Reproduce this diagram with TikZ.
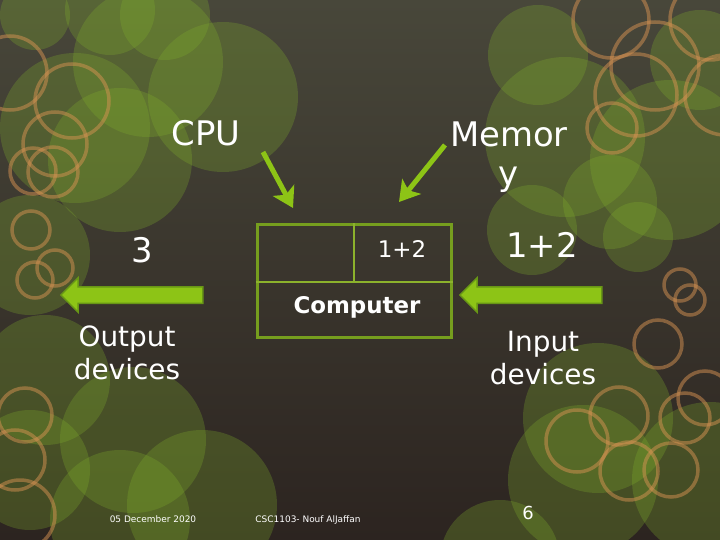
\documentclass[tikz,border=0pt]{standalone}
\usepackage{fontspec}
\setmainfont{DejaVu Sans}
\usetikzlibrary{positioning,shapes.arrows,arrows.meta}

\definecolor{bgtop}{RGB}{72,71,58}
\definecolor{bgbot}{RGB}{44,36,32}
\definecolor{bokehgreen}{RGB}{129,176,44}
\definecolor{ringorange}{RGB}{214,146,82}
\definecolor{boxgreen}{RGB}{118,158,30}
\definecolor{linegreen}{RGB}{140,178,44}
\definecolor{arrowgreen}{RGB}{141,196,22}
\definecolor{arrowedge}{RGB}{104,150,22}

\tikzset{
  bokeh/.style={fill=bokehgreen, fill opacity=0.28},
  ring/.style={draw=ringorange, draw opacity=0.5, line width=3.5bp},
  slidetext/.style={text=white, anchor=base, align=center, inner sep=0pt},
  blockarrow/.style={single arrow, fill=arrowgreen, draw=arrowedge, line width=1.5bp,
    minimum height=142bp, single arrow head extend=9bp,
    inner xsep=0pt, inner ysep=7.5bp, shape border rotate=180},
  diagarrow/.style={draw=arrowgreen, line width=5bp, -{Stealth[length=20bp,width=24bp,inset=5bp]}},
}

\begin{document}
\begin{tikzpicture}[x=1bp, y=-1bp]
	\useasboundingbox (0,0) rectangle (720,540);
	% 背景渐变
	\shade[top color=bgtop, bottom color=bgbot] (0,0) rectangle (720,540);
	
	% 装饰圆圈：绿色圆片和橙色圆环
	\begin{scope}
		\clip (0,0) rectangle (720,540);
		\foreach \x/\y/\r in {148/62/75, 223/97/75, 75/128/75, 120/160/72, 110/10/45, 165/15/45,
			30/255/60, 35/15/35, 45/380/65, 133/440/73, 202/505/75, 120/520/70, 30/470/60,
			538/55/50, 565/137/80, 670/160/80, 610/202/47, 532/230/45, 638/237/35, 700/60/50,
			598/418/75, 583/480/75, 710/480/78, 500/560/60}
			\fill[bokeh] (\x,\y) circle (\r bp);
		\foreach \x/\y/\r in {72/101/37, 55/144/32, 33/171/23, 53/172/25, 10/73/37, 31/230/19,
			35/280/18, 55/268/18, 25/415/27, 20/515/35, 15/460/30,
			611/20/38, 655/66/44, 636/95/41, 612/128/25, 710/20/40, 725/95/40,
			680/285/16, 690/300/15, 658/344/24, 705/398/27, 619/416/29, 577/441/31,
			629/471/29, 671/470/27, 685/418/25}
			\draw[ring] (\x,\y) circle (\r bp);
	\end{scope}
	
	% 计算机方框
	\node[draw=boxgreen, line width=3bp, minimum width=194bp, minimum height=112bp, inner sep=0pt] (computer) at (354,281) {};
	\draw[linegreen, line width=1.2bp] (computer.west |- 0,282) -- (computer.east |- 0,282);
	\draw[linegreen, line width=1.2bp] (computer.north -| 354,0) -- (354,282);
	\node[slidetext, font=\fontsize{23}{28}\selectfont] (memval) at (402,258) {1+2};
	\node[slidetext, font=\bfseries\fontsize{23}{28}\selectfont] (comptext) at (357,313) {Computer};
	
	% 文字（多行时基线取最后一行）
	\node[slidetext, font=\fontsize{34}{40}\selectfont] (cpu) at (206,146) {CPU};
	\node[slidetext, font=\fontsize{34}{40}\selectfont] (memory) at (509,186) {Memor\\y};
	\node[slidetext, font=\fontsize{34}{40}\selectfont] (result) at (142,263) {3};
	\node[slidetext, font=\fontsize{34}{40}\selectfont] (input) at (542,258) {1+2};
	\node[slidetext, font=\fontsize{28}{33}\selectfont] (outdev) at (127,379) {Output\\devices};
	\node[slidetext, font=\fontsize{28}{33}\selectfont] (indev) at (543,384) {Input\\devices};
	
	% 页脚
	\node[slidetext, font=\fontsize{9}{11}\selectfont] (date) at (153,522) {05 December 2020};
	\node[slidetext, font=\fontsize{9}{11}\selectfont] (course) at (308,522) {CSC1103- Nouf AlJaffan};
	\node[slidetext, font=\fontsize{18}{22}\selectfont] (page) at (528,519) {6};
	
	% 粗箭头
	\node[blockarrow] (outarrow) at (136,295) {};
	\node[blockarrow] (inarrow) at (535,295) {};
	
	% 斜箭头
	\coordinate (cpufrom) at (263,152);
	\coordinate (cputo) at (293,208);
	\coordinate (memfrom) at (445,145);
	\coordinate (memto) at (399,202);
	\draw[diagarrow] (cpufrom) -- (cputo);
	\draw[diagarrow] (memfrom) -- (memto);
\end{tikzpicture}
\end{document}
